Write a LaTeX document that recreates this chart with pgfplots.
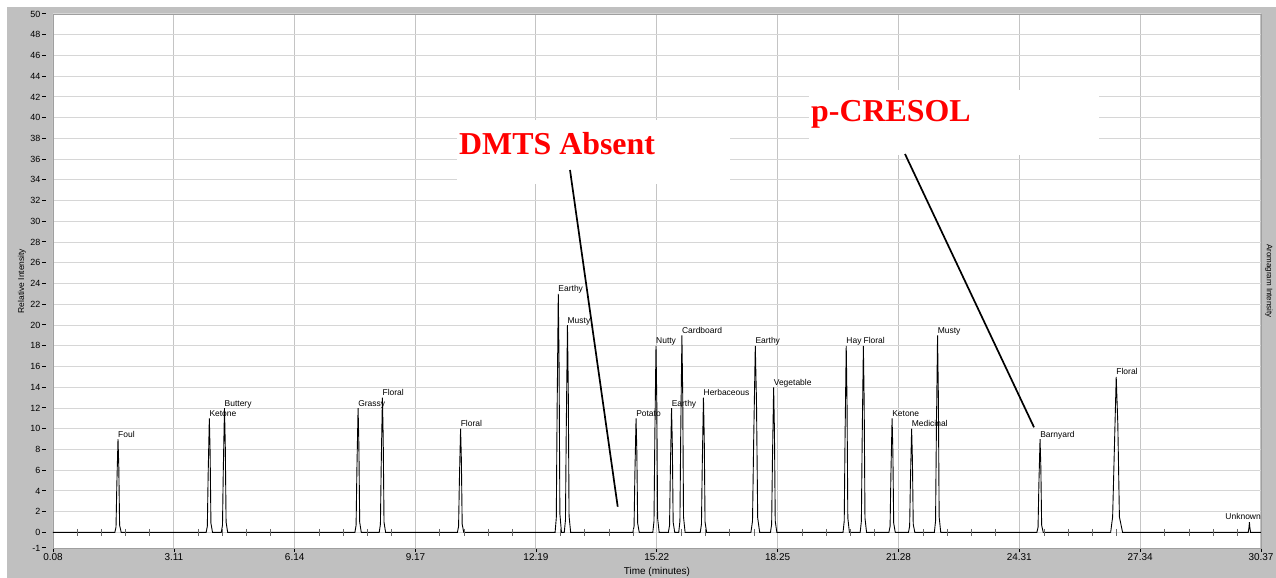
\documentclass[border=0pt]{standalone}
\usepackage{fontspec}
\setmainfont{Liberation Sans}
\newfontfamily\timesfont{Liberation Serif}
\usepackage{pgfplots}
\pgfplotsset{compat=1.18}
\definecolor{panel}{RGB}{192,192,192}
\definecolor{xgridc}{RGB}{196,196,196}
\definecolor{ygridc}{RGB}{214,214,214}
\newcommand{\lab}[3]{\node[anchor=base west, inner sep=0pt, font=\fontsize{8.5}{10}\selectfont] at (axis cs:#1,#2) [yshift=2bp] {#3};}
\begin{document}
\begin{tikzpicture}
\fill[white] (0bp,0bp) rectangle (1276bp,578bp);
\fill[panel] (7bp,0bp) rectangle (1276bp,571bp);
\begin{axis}[
  at={(53bp,30bp)}, anchor=south west,
  scale only axis, width=1208bp, height=534bp,
  xmin=0.08, xmax=30.37, ymin=-1.5, ymax=50,
  clip=false,
  axis background/.style={fill=white},
  axis line style={draw=gray!75, line width=0.5bp},
  /pgf/number format/assume math mode=true,
  xtick={0.08,3.11,6.14,9.17,12.19,15.22,18.25,21.28,24.31,27.34,30.37},
  xticklabels={0.08,3.11,6.14,9.17,12.19,15.22,18.25,21.28,24.31,27.34,30.37},
  xtick pos=bottom, ytick pos=left,
  tick align=outside, major tick length=4bp,
  xtick style={black, line width=0.6bp},
  ytick style={draw=none},
  xticklabel style={font=\fontsize{10}{12}\selectfont, inner sep=1.5bp},
  ytick={0,2,...,50},
  yticklabel={\pgfmathprintnumber{\tick}\hspace{1.5bp}\rule[2.9bp]{4bp}{0.8bp}},
  yticklabel style={font=\fontsize{9}{10}\selectfont, inner sep=3bp},
  extra y ticks={-1.5},
  extra y tick labels={-1\hspace{1.5bp}\rule[2.9bp]{4bp}{0.8bp}},
  extra y tick style={grid=none},
  xmajorgrids, ymajorgrids,
  x grid style={xgridc, line width=1bp},
  y grid style={ygridc, line width=1bp},
  xlabel={Time (minutes)},
  xlabel style={at={(axis description cs:0.5,0)}, anchor=center, yshift=-23.7bp, font=\fontsize{10}{12}\selectfont},
  ylabel={Relative Intensity},
  ylabel style={at={(axis description cs:-0.0257,0.5)}, anchor=center, font=\fontsize{8.5}{10}\selectfont},
]
% aromagram trace
\addplot[black, line width=0.9bp] table {
x y
0.08 0
1.63 0
1.66 0.5
1.68 4.5
1.71 9
1.73 6.3
1.75 0.7
1.79 0
3.92 0
3.95 0.6
3.97 5.5
4.00 11
4.02 7.7
4.04 0.9
4.08 0
4.30 0
4.33 0.7
4.35 6
4.38 12
4.40 8.4
4.42 1
4.46 0
7.65 0
7.68 0.7
7.70 6
7.73 12
7.75 8.4
7.77 1
7.81 0
8.26 0
8.29 0.8
8.31 6.5
8.34 13
8.36 9.1
8.38 1
8.42 0
10.22 0
10.25 0.6
10.27 5
10.30 10
10.32 7
10.34 0.8
10.38 0
12.67 0
12.70 1.4
12.72 11.5
12.75 23
12.77 16.1
12.79 1.8
12.83 0
12.90 0
12.93 1.2
12.95 10
12.98 20
13.00 14
13.02 1.6
13.06 0
14.62 0
14.65 0.6
14.67 5.5
14.70 11
14.72 7.7
14.74 0.9
14.78 0
15.12 0
15.15 1.1
15.17 9
15.20 18
15.22 12.6
15.24 1.4
15.28 0
15.51 0
15.54 0.7
15.56 6
15.59 12
15.61 8.4
15.63 1
15.67 0
15.77 0
15.80 1.1
15.82 9.5
15.85 19
15.87 13.3
15.89 1.5
15.93 0
16.31 0
16.34 0.8
16.36 6.5
16.39 13
16.41 9.1
16.43 1
16.47 0
17.58 0
17.62 1.1
17.65 9
17.69 18
17.72 12.6
17.75 1.4
17.80 0
18.07 0
18.10 0.8
18.12 7
18.15 14
18.17 9.8
18.19 1.1
18.23 0
19.89 0
19.92 1.1
19.94 9
19.97 18
19.99 12.6
20.01 1.4
20.05 0
20.32 0
20.35 1.1
20.37 9
20.40 18
20.42 12.6
20.44 1.4
20.48 0
21.04 0
21.07 0.6
21.09 5.5
21.12 11
21.14 7.7
21.16 0.9
21.20 0
21.53 0
21.56 0.6
21.58 5
21.61 10
21.63 7
21.65 0.8
21.69 0
22.18 0
22.21 1.1
22.23 9.5
22.26 19
22.28 13.3
22.30 1.5
22.34 0
24.75 0
24.78 0.5
24.80 4.5
24.83 9
24.85 6.3
24.87 0.7
24.91 0
26.60 0
26.65 1.5
26.69 7.5
26.74 15
26.78 10.5
26.82 1.5
26.90 0
30.05 0
30.07 0.5
30.08 1
30.09 0.5
30.11 0
30.37 0
};
% baseline minor tick marks
\addplot[only marks, mark=|, mark size=3.5bp, mark options={gray!80!black, line width=0.6bp}] coordinates {
(0.686,0) (1.292,0) (1.898,0) (2.504,0)
(3.716,0) (4.322,0) (4.928,0) (5.534,0)
(6.746,0) (7.352,0) (7.958,0) (8.564,0)
(9.776,0) (10.382,0) (10.988,0) (11.594,0)
(12.806,0) (13.412,0) (14.018,0) (14.624,0)
(15.836,0) (16.442,0) (17.048,0) (17.654,0)
(18.866,0) (19.472,0) (20.078,0) (20.684,0)
(21.896,0) (22.502,0) (23.108,0) (23.714,0)
(24.926,0) (25.532,0) (26.138,0) (26.744,0)
(27.956,0) (28.562,0) (29.168,0) (29.774,0)
};
\lab{1.71}{9}{Foul}
\lab{4.00}{11}{Ketone}
\lab{4.38}{12}{Buttery}
\lab{7.73}{12}{Grassy}
\lab{8.34}{13}{Floral}
\lab{10.30}{10}{Floral}
\lab{12.75}{23}{Earthy}
\lab{12.98}{20}{Musty}
\lab{14.70}{11}{Potato}
\lab{15.20}{18}{Nutty}
\lab{15.59}{12}{Earthy}
\lab{15.85}{19}{Cardboard}
\lab{16.39}{13}{Herbaceous}
\lab{17.69}{18}{Earthy}
\lab{18.15}{14}{Vegetable}
\lab{19.97}{18}{Hay}
\lab{20.40}{18}{Floral}
\lab{21.12}{11}{Ketone}
\lab{21.61}{10}{Medicinal}
\lab{22.26}{19}{Musty}
\lab{24.83}{9}{Barnyard}
\lab{26.74}{15}{Floral}
\node[anchor=base east, inner sep=0pt, font=\fontsize{8.5}{10}\selectfont] at (axis cs:30.37,1) [yshift=3bp] {Unknown};
\end{axis}
% right axis label
\node[rotate=-90, font=\fontsize{8}{10}\selectfont] at (1269bp,297bp) {Aromagram Intensity};
% annotations
\fill[white] (457bp,394bp) rectangle (730bp,458bp);
\fill[white] (809bp,423bp) rectangle (1099bp,488bp);
\node[anchor=base west, inner sep=0pt, text=red, font=\timesfont\bfseries\fontsize{32}{36}\selectfont] at (459bp,423.7bp) {DMTS Absent};
\node[anchor=base west, inner sep=0pt, text=red, font=\timesfont\bfseries\fontsize{32}{36}\selectfont] at (811bp,456.3bp) {p-CRESOL};
\draw[black, line width=1.7bp] (570bp,408bp) -- (617.7bp,71.3bp);
\draw[black, line width=1.7bp] (905bp,424bp) -- (1034bp,150.7bp);
\pgfresetboundingbox
\useasboundingbox (0bp,0bp) rectangle (1276bp,578bp);
\end{tikzpicture}
\end{document}
